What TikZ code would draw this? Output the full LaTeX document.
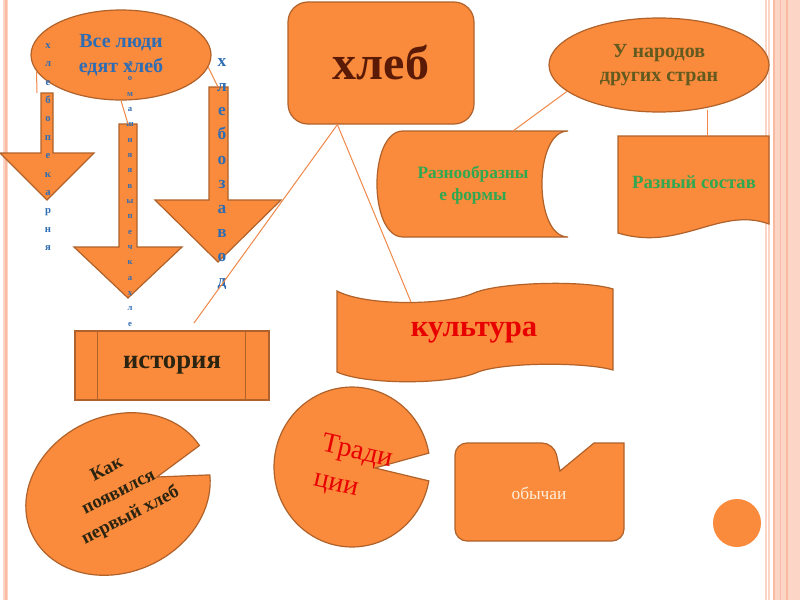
\documentclass[tikz,border=0pt]{standalone}
\usepackage{fontspec}
\setmainfont{Liberation Serif}
\usetikzlibrary{shapes.geometric,calc}
\definecolor{orfill}{HTML}{FA8A3C}
\definecolor{orline}{HTML}{B0622A}
\definecolor{conn}{HTML}{F08848}
\definecolor{blu}{HTML}{2E6DB4}
\definecolor{olive}{HTML}{625A1E}
\definecolor{grn}{HTML}{30A850}
\definecolor{brn}{HTML}{5A1A06}
\definecolor{dk}{HTML}{2A2410}
\definecolor{kred}{HTML}{E80000}
\definecolor{cream}{HTML}{FFF0DC}
\definecolor{bordA}{HTML}{FDD5C6}
\definecolor{bordB}{HTML}{FABAA2}
\begin{document}
\begin{tikzpicture}[x=0.75pt,y=-0.75pt,
  shp/.style={fill=orfill,draw=orline,line width=0.9pt},
  con/.style={draw=conn,line width=0.75pt},
  vtxt/.style={align=center,inner sep=0pt,text=blu},
]
\useasboundingbox (0,0) rectangle (800,600);
\fill[white] (0,0) rectangle (800,600);
% page borders
\fill[bordA] (3,0) rectangle (8,600);
\fill[bordB] (4.5,0) rectangle (6.5,600);
\fill[bordA] (765,0) rectangle (766.5,600);
\fill[bordA] (768,0) rectangle (769.5,600);
\fill[bordA] (773,0) rectangle (800,600);
\fill[bordB] (773,0) rectangle (775,600);
\fill[bordB] (779.5,0) rectangle (781,600);
\fill[bordB] (786,0) rectangle (788,600);

% ellipse Все люди
\node[ellipse,shp,minimum width=135pt,minimum height=67.5pt,inner sep=0pt,
  align=center,text=blu,font=\bfseries\fontsize{15}{18.5}\selectfont] (vse) at (121,55) {Все люди\\едят хлеб};

% down arrows
\draw[shp] (41,93) -- (53,93) -- (53,153) -- (94,153) -- (47,200) -- (0,153) -- (41,153) -- cycle;
\draw[shp] (119,124) -- (137,124) -- (137,247) -- (182,247) -- (128,298) -- (74,247) -- (119,247) -- cycle;
\draw[shp] (209,87) -- (228,87) -- (228,200) -- (281,200) -- (218,262) -- (155,200) -- (209,200) -- cycle;
\coordinate (a1top) at (37,93);
\coordinate (a2top) at (128,124);
\coordinate (a3top) at (218,87);

% vertical texts
\node[vtxt,font=\bfseries\fontsize{8}{13.8}\selectfont] (pek) at (48,147) {х\\л\\е\\б\\о\\п\\е\\к\\а\\р\\н\\я};
\node[vtxt,font=\bfseries\fontsize{6.5}{11.5}\selectfont] (dom) at (130,194) {д\\о\\м\\а\\ш\\н\\я\\я\\в\\ы\\п\\е\\ч\\к\\а\\х\\л\\е};
\node[vtxt,font=\bfseries\fontsize{13}{18.3}\selectfont] (zav) at (222,174) {х\\л\\е\\б\\о\\з\\а\\в\\о\\д};

% хлеб
\node[shp,rounded corners=15pt,minimum width=139.5pt,minimum height=91.5pt,
  text=brn,font=\bfseries\fontsize{36}{40}\selectfont] (xleb) at (381,63) {хлеб};

% У народов других стран
\node[ellipse,shp,minimum width=165pt,minimum height=70.5pt,inner sep=0pt,
  align=center,text=olive,font=\bfseries\fontsize{15}{17.5}\selectfont] (uzell) at (659,65) {У народов\\других стран};

% Разнообразные формы (stored data)
\draw[shp] (403,131) -- (568,131) .. controls (533.3,131) and (533.3,237) .. (568,237)
  -- (403,237) .. controls (368.3,237) and (368.3,131) .. (403,131) -- cycle;
\node[align=center,text=grn,font=\bfseries\fontsize{13}{17}\selectfont] (raz) at (473,185) {Разнообразны\\е формы};
\coordinate (raztop) at (513,131);

% Разный состав (document)
\draw[shp] (618,136) -- (769,136) -- (769,224) .. controls (720,206) and (680,252) .. (618,233) -- cycle;
\node[text=grn,font=\bfseries\fontsize{14}{17}\selectfont] (sost) at (694,182) {Разный состав};
\coordinate (sosttop) at (707,136);
\coordinate (uzb) at (707,110);

% история
\node[shp,minimum width=145.5pt,minimum height=51.75pt,
  text=dk,font=\bfseries\fontsize{20}{24}\selectfont] (ist) at (172,365.5) {история};
\draw[orline,line width=0.9pt] ($(ist.north west)+(23,0)$) -- ($(ist.south west)+(23,0)$);
\draw[orline,line width=0.9pt] ($(ist.north east)+(-24,0)$) -- ($(ist.south east)+(-24,0)$);
\coordinate (isttop) at (194,323);

% культура (wave)
\draw[shp] (337,291) .. controls (365,306) and (445,306) .. (474,293)
  .. controls (500,282) and (585,280) .. (613,289) -- (613,370)
  .. controls (585,362) and (505,362) .. (478,372)
  .. controls (450,385) and (365,385) .. (337,372) -- cycle;
\node[text=kred,font=\bfseries\fontsize{23}{27}\selectfont] (kult) at (474,333) {культура};
\coordinate (kulttop) at (411,302);

% Как появился первый хлеб (pie)
\draw[shp] plot[domain=7:344,samples=90]
  ({118+95*cos(\x)*cos(25)-78*sin(\x)*sin(25)},{494-95*cos(\x)*sin(25)-78*sin(\x)*cos(25)})
  -- (157,477) -- cycle;
\node[rotate=27,align=center,text=dk,font=\bfseries\fontsize{14}{19.5}\selectfont] (kak) at (119,493) {Как\\появился\\первый хлеб};

% Традиции (pie)
\draw[shp] plot[domain=10:350,samples=90] ({352+78*cos(\x)},{467-80*sin(\x)}) -- (375,468) -- cycle;
\node[rotate=-13,align=left,text=kred,font=\fontsize{21}{27}\selectfont] (trad) at (353,470) {Тради\\ции};

% обычаи
\draw[shp] (455,492) [rounded corners=9pt] -- (455,443) -- (554,443) [sharp corners] -- (560,471)
  -- (594,443) -- (624,443) [rounded corners=9pt] -- (624,541) -- (455,541) -- cycle;
\node[text=cream,font=\fontsize{13}{16}\selectfont] (oby) at (539,493) {обычаи};

% small dot
\node[circle,fill=orfill,minimum size=36pt,inner sep=0pt] (dot) at (737,523) {};

% connectors
\draw[con] (vse.191) -- (a1top);
\draw[con] (vse.south) -- (a2top);
\draw[con] (vse.352) -- (a3top);
\draw[con] ($(xleb.south west)+(50,0)$) -- (isttop);
\draw[con] ($(xleb.south west)+(50,0)$) -- (kulttop);
\draw[con] (uzell.196) -- (raztop);
\draw[con] (uzb) -- (sosttop);
\end{tikzpicture}
\end{document}
